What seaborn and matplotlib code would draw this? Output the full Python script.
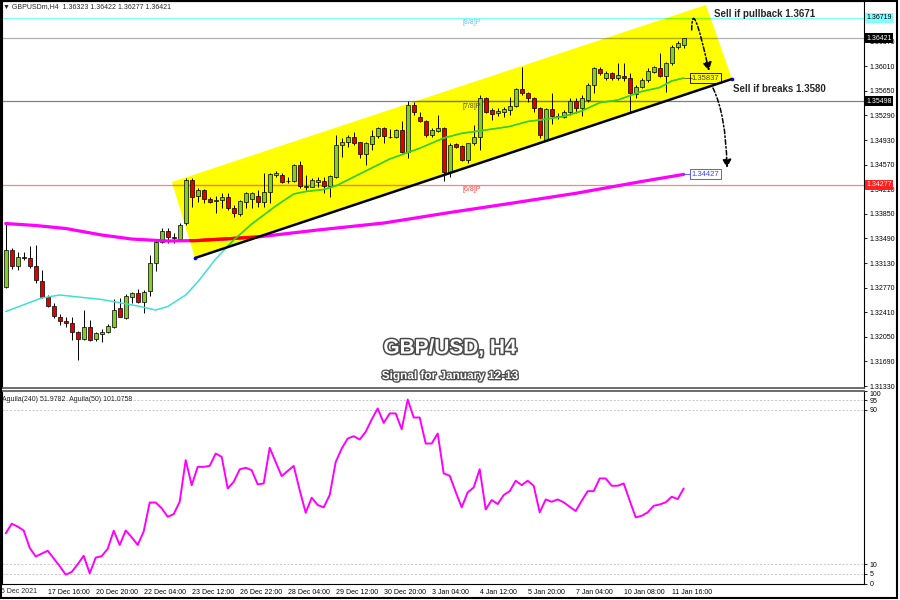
import numpy as np
import seaborn as sns
import matplotlib
matplotlib.use('Agg')
import matplotlib.pyplot as plt
import matplotlib.patheffects as pe
from matplotlib.patches import Polygon, FancyArrowPatch, Rectangle
from matplotlib.path import Path
from matplotlib.transforms import blended_transform_factory

sns.set_style('white')
plt.rcParams['font.family'] = ['Liberation Sans', 'DejaVu Sans']

# H4 candles, one per bar (16 Dec 12:00 .. 12 Jan 00:00)
opens = [1.32779, 1.33320, 1.33086, 1.33218, 1.33210, 1.33086, 1.32867, 1.32632, 1.32501, 1.32344,
         1.32286, 1.32256, 1.32125, 1.32018, 1.32198, 1.32013, 1.32091, 1.32125, 1.32198, 1.32467,
         1.32321, 1.32637, 1.32687, 1.32555, 1.32725, 1.33126, 1.33442, 1.33603, 1.33511, 1.33481,
         1.33711, 1.34345, 1.34111, 1.34198, 1.34062, 1.34042, 1.34052, 1.34100, 1.33935, 1.33847,
         1.34027, 1.34062, 1.34111, 1.34027, 1.34165, 1.34418, 1.34418, 1.34330, 1.34323, 1.34564,
         1.34238, 1.34247, 1.34320, 1.34337, 1.34257, 1.34393, 1.34857, 1.34905, 1.34978, 1.34896,
         1.34725, 1.34867, 1.34989, 1.35101, 1.34981, 1.34978, 1.35076, 1.34759, 1.35440, 1.35262,
         1.35213, 1.35003, 1.35066, 1.35110, 1.34466, 1.34867, 1.34842, 1.34637, 1.34882, 1.34970,
         1.35540, 1.35369, 1.35321, 1.35335, 1.35369, 1.35428, 1.35672, 1.35614, 1.35549, 1.35394,
         1.34930, 1.35384, 1.35286, 1.35262, 1.35344, 1.35501, 1.35394, 1.35515, 1.35735, 1.35965,
         1.35842, 1.35915, 1.35842, 1.35867, 1.35833, 1.35603, 1.35710, 1.35808, 1.35930, 1.35988,
         1.35867, 1.36053, 1.36287, 1.36323]
highs = [1.33715, 1.33350, 1.33291, 1.33291, 1.33379, 1.33393, 1.33028, 1.32662, 1.32545, 1.32384,
         1.32344, 1.32344, 1.32135, 1.32442, 1.32296, 1.32120, 1.32164, 1.32237, 1.32608, 1.32618,
         1.32676, 1.32710, 1.32749, 1.32735, 1.33247, 1.33467, 1.33638, 1.33638, 1.33565, 1.33715,
         1.34370, 1.34370, 1.34228, 1.34213, 1.34100, 1.34111, 1.34150, 1.34150, 1.33979, 1.34052,
         1.34174, 1.34162, 1.34198, 1.34443, 1.34443, 1.34476, 1.34443, 1.34393, 1.34579, 1.34630,
         1.34418, 1.34370, 1.34384, 1.34384, 1.34418, 1.35003, 1.34955, 1.35003, 1.35052, 1.34905,
         1.34905, 1.35076, 1.35125, 1.35125, 1.35087, 1.35087, 1.35208, 1.35498, 1.35491, 1.35344,
         1.35223, 1.35101, 1.35296, 1.35125, 1.34882, 1.34882, 1.34857, 1.34891, 1.35150, 1.35589,
         1.35564, 1.35394, 1.35394, 1.35409, 1.35564, 1.35687, 1.36003, 1.35637, 1.35564, 1.35409,
         1.35394, 1.35614, 1.35321, 1.35369, 1.35540, 1.35540, 1.35589, 1.35760, 1.35994, 1.35994,
         1.35944, 1.35930, 1.36053, 1.36053, 1.35915, 1.35735, 1.35833, 1.35979, 1.36013, 1.36208,
         1.36076, 1.36320, 1.36383, 1.36422]
lows = [1.32764, 1.33042, 1.33028, 1.33174, 1.33057, 1.32837, 1.32618, 1.32490, 1.32325, 1.32223,
        1.32198, 1.32003, 1.31710, 1.32003, 1.31988, 1.31988, 1.31969, 1.32106, 1.32183, 1.32340,
        1.32310, 1.32540, 1.32540, 1.32403, 1.32647, 1.33013, 1.33418, 1.33418, 1.33427, 1.33474,
        1.33686, 1.33954, 1.34023, 1.34004, 1.34004, 1.33857, 1.33931, 1.33906, 1.33808, 1.33818,
        1.33931, 1.33935, 1.33954, 1.33954, 1.34004, 1.34393, 1.34296, 1.34301, 1.34315, 1.34228,
        1.34198, 1.34238, 1.34238, 1.34159, 1.34100, 1.34381, 1.34686, 1.34832, 1.34857, 1.34667,
        1.34564, 1.34784, 1.34955, 1.34882, 1.34955, 1.34955, 1.34747, 1.34662, 1.35296, 1.35198,
        1.34978, 1.34978, 1.35052, 1.34330, 1.34393, 1.34813, 1.34627, 1.34598, 1.34857, 1.34784,
        1.35321, 1.35223, 1.35281, 1.35262, 1.35296, 1.35409, 1.35589, 1.35491, 1.35344, 1.34955,
        1.34915, 1.35164, 1.35233, 1.35248, 1.35296, 1.35321, 1.35281, 1.35491, 1.35614, 1.35881,
        1.35808, 1.35808, 1.35808, 1.35798, 1.35330, 1.35540, 1.35687, 1.35783, 1.35906, 1.35856,
        1.35637, 1.36028, 1.36257, 1.36277]
closes = [1.33320, 1.33086, 1.33218, 1.33203, 1.33086, 1.32881, 1.32632, 1.32505, 1.32354, 1.32286,
          1.32248, 1.32125, 1.32018, 1.32198, 1.32003, 1.32101, 1.32116, 1.32208, 1.32442, 1.32344,
          1.32647, 1.32687, 1.32555, 1.32710, 1.33134, 1.33442, 1.33603, 1.33506, 1.33503, 1.33686,
          1.34345, 1.34103, 1.34198, 1.34062, 1.34027, 1.34052, 1.34092, 1.33931, 1.33869, 1.34037,
          1.34150, 1.34150, 1.34027, 1.34165, 1.34428, 1.34443, 1.34320, 1.34323, 1.34564, 1.34257,
          1.34257, 1.34345, 1.34345, 1.34257, 1.34396, 1.34857, 1.34905, 1.34978, 1.34882, 1.34725,
          1.34882, 1.34989, 1.35101, 1.34989, 1.34978, 1.35076, 1.34759, 1.35440, 1.35344, 1.35213,
          1.35003, 1.35076, 1.35110, 1.34466, 1.34857, 1.34832, 1.34637, 1.34882, 1.34970, 1.35540,
          1.35344, 1.35311, 1.35355, 1.35379, 1.35428, 1.35672, 1.35614, 1.35549, 1.35394, 1.35003,
          1.35384, 1.35286, 1.35262, 1.35344, 1.35501, 1.35394, 1.35540, 1.35735, 1.35979, 1.35915,
          1.35915, 1.35842, 1.35877, 1.35833, 1.35614, 1.35710, 1.35808, 1.35944, 1.35994, 1.35867,
          1.36053, 1.36287, 1.36345, 1.36421]
bars = np.arange(len(opens))

# moving averages read at selected bars
ma240_bars = [0, 5, 10, 16, 21, 27, 32, 42, 52, 63, 74, 84, 95, 106, 113]
ma240 = [1.33708, 1.33679, 1.33635, 1.33540, 1.33481, 1.33452, 1.33459, 1.33511,
         1.33613, 1.33715, 1.33869, 1.34001, 1.34150, 1.34323, 1.34427]
ma50_bars = [0, 2, 6, 9, 16, 22, 25, 27, 30, 32, 35, 38, 41, 45, 48, 50, 53, 55, 59, 64,
             69, 73, 76, 80, 84, 87, 89, 93, 96, 99, 102, 106, 109, 111, 113]
ma50 = [1.32420, 1.32486, 1.32618, 1.32662, 1.32596, 1.32501, 1.32442, 1.32493, 1.32662, 1.32852,
        1.33189, 1.33467, 1.33701, 1.33964, 1.34140, 1.34176, 1.34206, 1.34257, 1.34433, 1.34652,
        1.34809, 1.34959, 1.35028, 1.35076, 1.35128, 1.35201, 1.35223, 1.35274, 1.35355, 1.35476,
        1.35515, 1.35640, 1.35698, 1.35794, 1.35837]

# oscillator (lower panel)
osc = [26, 31, 29.5, 27.5, 18.5, 14, 15.5, 17, 13, 9,
       4.6, 6, 10, 14.4, 5.3, 13.4, 14.2, 18, 27.4, 20,
       27.5, 24, 20, 27, 42, 42, 39, 34.6, 36, 42.4,
       64, 51, 60.5, 60.5, 61, 67.4, 65.7, 49.3, 52.7, 59.2,
       60, 58.8, 51.4, 51.9, 70.4, 63, 55.7, 58.4, 61, 48.4,
       36.7, 44.5, 40.7, 39.5, 45.9, 63, 70, 75.2, 76.4, 74.7,
       78.7, 85.1, 90.8, 83.3, 88.2, 88.2, 80, 95.4, 86.1, 86.1,
       72.6, 72.6, 77.8, 57.1, 55.9, 47.5, 39.5, 47.3, 49.8, 59.3,
       38.4, 43.3, 41.2, 45.9, 47.9, 53.3, 51, 53.3, 50.7, 36.9,
       43.6, 42.4, 43.6, 42.1, 39.8, 37.6, 42.9, 47.9, 47.9, 54.5,
       54.5, 50.7, 50.7, 51.9, 43, 34.3, 35.1, 36.9, 40.3, 41,
       42.1, 45, 43.8, 49.3]

price_ticks = [1.31330, 1.31690, 1.32050, 1.32410, 1.32770, 1.33130, 1.33490, 1.33850,
               1.34210, 1.34570, 1.34930, 1.35290, 1.35650, 1.36010, 1.36370, 1.36730]
osc_ticks = [0, 5, 10, 90, 95, 100]
date_bars = [7, 15, 23, 31, 39, 47, 55, 63, 71, 79, 87, 95, 103, 111]
date_labels = ['17 Dec 16:00', '20 Dec 20:00', '22 Dec 04:00', '23 Dec 12:00', '26 Dec 22:00',
               '28 Dec 04:00', '29 Dec 12:00', '30 Dec 20:00', '3 Jan 04:00', '4 Jan 12:00',
               '5 Jan 20:00', '7 Jan 04:00', '10 Jan 08:00', '11 Jan 16:00']

level_names = ['[8/8]P', '[7/8]P', '[6/8]P']
level_values = [1.36719, 1.35498, 1.34277]
bid = 1.36421

channel_bars = [27.7, 116.7, 121.05, 31.55]
channel_prices = [1.34315, 1.36906, 1.35823, 1.33203]

#%% figure
fig = plt.figure(figsize=(9, 6), dpi=100)
ax = fig.add_axes([1.5/900, 1-388/600, 862.5/900, 387/600])
ax2 = fig.add_axes([1.5/900, 1-583.5/600, 862.5/900, 192.8/600])

# yellow channel, lines inside it look "multiplied" with yellow
chan = Polygon(list(zip(channel_bars, channel_prices)), closed=True, fc='#ffff00', ec='none', zorder=1)
ax.add_patch(chan)

def clipped(xs, ys, color, lw, z):
    ln, = ax.plot(xs, ys, color=color, lw=lw, zorder=z)
    ln.set_clip_path(chan)

xr = [-1, 144]
hl_colors = ['#7fffff', '#808080', '#ff8080']
hl_inside = ['#7fff00', '#808000', '#ff8000']
for v, c, ci in zip(level_values, hl_colors, hl_inside):
    ax.axhline(v, color=c, lw=0.9, zorder=2)
    clipped(xr, [v, v], ci, 0.9, 2.1)
ax.axhline(bid, color='#b0b0b0', lw=0.9, zorder=2)
clipped(xr, [bid, bid], '#b0b000', 0.9, 2.1)

# candles
colors = ['#80cc28' if c >= o else '#e00000' for o, c in zip(opens, closes)]
ax.vlines(bars, lows, highs, color='black', lw=0.7, zorder=3)
ax.bar(bars, np.array(closes) - np.array(opens), bottom=opens, width=0.62,
       color=colors, edgecolor='black', linewidth=0.5, zorder=4)

# moving averages
sns.lineplot(x=ma240_bars, y=ma240, ax=ax, color='#ff00ff', lw=2.3, zorder=5)
clipped(ma240_bars, ma240, '#ff0000', 2.3, 5.1)
sns.lineplot(x=ma50_bars, y=ma50, ax=ax, color='#40e0d0', lw=1.1, zorder=5)
clipped(ma50_bars, ma50, '#40d000', 1.1, 5.1)

# trend line along the lower edge of the channel
ax.plot([channel_bars[3], channel_bars[2]], [channel_prices[3], channel_prices[2]],
        color='black', lw=1.8, zorder=6)
ax.plot([channel_bars[3], channel_bars[2]], [channel_prices[3], channel_prices[2]],
        'o', ms=1.6, color='#0000ff', zorder=6.1)

# level labels
lab_cols = ['#60c0ff', '#505050', '#ff4040']
for n, v, c in zip(level_names, level_values, lab_cols):
    ax.annotate(n, (76.2, v), xytext=(0, -1), textcoords='offset points',
                fontsize=5, color=c, va='top', ha='left', zorder=7)

# MA value boxes
ax.plot([113, 114.3], [ma50[-1], ma50[-1]], color='#606000', lw=0.6, zorder=6)
ax.text(114.3, ma50[-1], '%.5f' % ma50[-1], fontsize=5.5, color='#404040', va='center', ha='left',
        zorder=7, bbox=dict(boxstyle='square,pad=0.2', fc='none', ec='black', lw=0.6))
ax.plot([113, 114.3], [ma240[-1], ma240[-1]], color='#4040ff', lw=0.6, zorder=6)
ax.text(114.3, ma240[-1], '%.5f' % ma240[-1], fontsize=5.5, color='#4040ff', va='center', ha='left',
        zorder=7, bbox=dict(boxstyle='square,pad=0.2', fc='white', ec='#4040ff', lw=0.6))

# price axis (the top tick label sits under the 1.36719 box in the original)
ax.set_xlim(-0.7, 143.05)
ax.set_ylim(1.31301, 1.36964)
ax.set_xticks([])
ax.yaxis.tick_right()
ax.set_yticks(price_ticks)
ax.set_yticklabels(['%.5f' % t if t < 1.367 else '' for t in price_ticks])
ax.tick_params(axis='y', labelsize=5, length=2.5, width=0.6, pad=1.5, direction='out', colors='black')
for s in ax.spines.values():
    s.set_color('black')
    s.set_linewidth(0.8)
ax.spines['bottom'].set_color('#606060')
ax.spines['bottom'].set_linewidth(1.3)

ytr = ax.get_yaxis_transform()
boxes = [(level_values[0], '#7fffff', 'black'), (bid, 'black', 'white'),
         (level_values[1], 'black', 'white'), (level_values[2], '#ff2020', 'white')]
for v, fc, tc in boxes:
    ax.text(1.0025, v, '%.5f' % v, transform=ytr, fontsize=5, color=tc, va='center', ha='left',
            bbox=dict(boxstyle='square,pad=0.2', fc=fc, ec='none'), zorder=8, clip_on=False)

# headers and signal texts
ax.text(0.002, 0.996, '\u25bc GBPUSDm,H4  1.36323 1.36422 1.36277 1.36421', transform=ax.transAxes,
        fontsize=5, va='top', ha='left')
ax.text(118.0, 1.36767, 'Sell if pullback 1.3671', fontsize=7, fontweight='bold', va='center', ha='left', zorder=9)
ax.text(121.2, 1.35676, 'Sell if breaks 1.3580', fontsize=7, fontweight='bold', va='center', ha='left', zorder=9)

fx = [pe.SimplePatchShadow(offset=(1.2, -1.2), shadow_rgbFace='#808080', alpha=0.7),
      pe.Stroke(linewidth=2.2, foreground='#4a4a4a'), pe.Normal()]
ax.text(0.52, 0.103, 'GBP/USD, H4', transform=ax.transAxes, fontsize=15, fontweight='bold',
        color='white', ha='center', va='center', path_effects=fx, zorder=9)
fx2 = [pe.SimplePatchShadow(offset=(1, -1), shadow_rgbFace='#808080', alpha=0.7),
       pe.Stroke(linewidth=1.8, foreground='#4a4a4a'), pe.Normal()]
ax.text(0.52, 0.031, 'Signal for January 12-13', transform=ax.transAxes, fontsize=8.5, fontweight='bold',
        color='white', ha='center', va='center', path_effects=fx2, zorder=9)

# dash-dot arrows
def curved_arrow(p0, p1, p2):
    path = Path([p0, p1, p2], [Path.MOVETO, Path.CURVE3, Path.CURVE3])
    arr = FancyArrowPatch(path=path, arrowstyle='-|>,head_length=5,head_width=2.6',
                          linestyle=(0, (3, 1.5, 1, 1.5)), lw=1.1, color='black',
                          zorder=9, clip_on=False)
    ax.add_patch(arr)

curved_arrow((114.33, 1.36540), (114.38, 1.37067), (117.22, 1.35940))
curved_arrow((117.88, 1.35691), (120.05, 1.35296), (120.22, 1.34520))

#%% lower panel
for v in [5, 10, 90, 95]:
    ax2.axhline(v, color='#c0c0c0', lw=0.6, ls=(0, (2.5, 2)), zorder=1)
sns.lineplot(x=bars, y=osc, ax=ax2, color='#ff00ff', lw=1.4, zorder=3)
ax2.set_xlim(-0.7, 143.05)
ax2.set_ylim(0, 100)
ax2.yaxis.tick_right()
ax2.set_yticks(osc_ticks)
ax2.set_yticklabels([str(t) for t in osc_ticks])
ax2.get_yticklabels()[-1].set_va('top')
ax2.set_xticks(date_bars)
ax2.set_xticklabels(date_labels)
for lbl in ax2.get_xticklabels():
    lbl.set_ha('left')
ax2.tick_params(axis='both', labelsize=5, length=2.5, width=0.6, pad=1.5, direction='out', colors='black')
ax2.set_xlabel('')
ax2.set_ylabel('')
for s in ax2.spines.values():
    s.set_color('black')
    s.set_linewidth(0.8)
ax2.spines['top'].set_color('#606060')
ax2.spines['top'].set_linewidth(1.3)
trx = blended_transform_factory(ax2.transData, ax2.transAxes)
ax2.text(-1.45, -0.0215, '16 Dec 2021', transform=trx, fontsize=5, va='top', ha='left', clip_on=False)
ax2.text(0.0, 0.975, 'Aguila(240) 51.9782  Aguila(50) 101.0758', transform=ax2.transAxes,
         fontsize=5, va='top', ha='left')

fig.patches.append(Rectangle((0.0008, 0.0035), 0.9955, 0.995, transform=fig.transFigure,
                             fill=False, ec='black', lw=1.5))

fig.savefig('out.png', dpi=100)
